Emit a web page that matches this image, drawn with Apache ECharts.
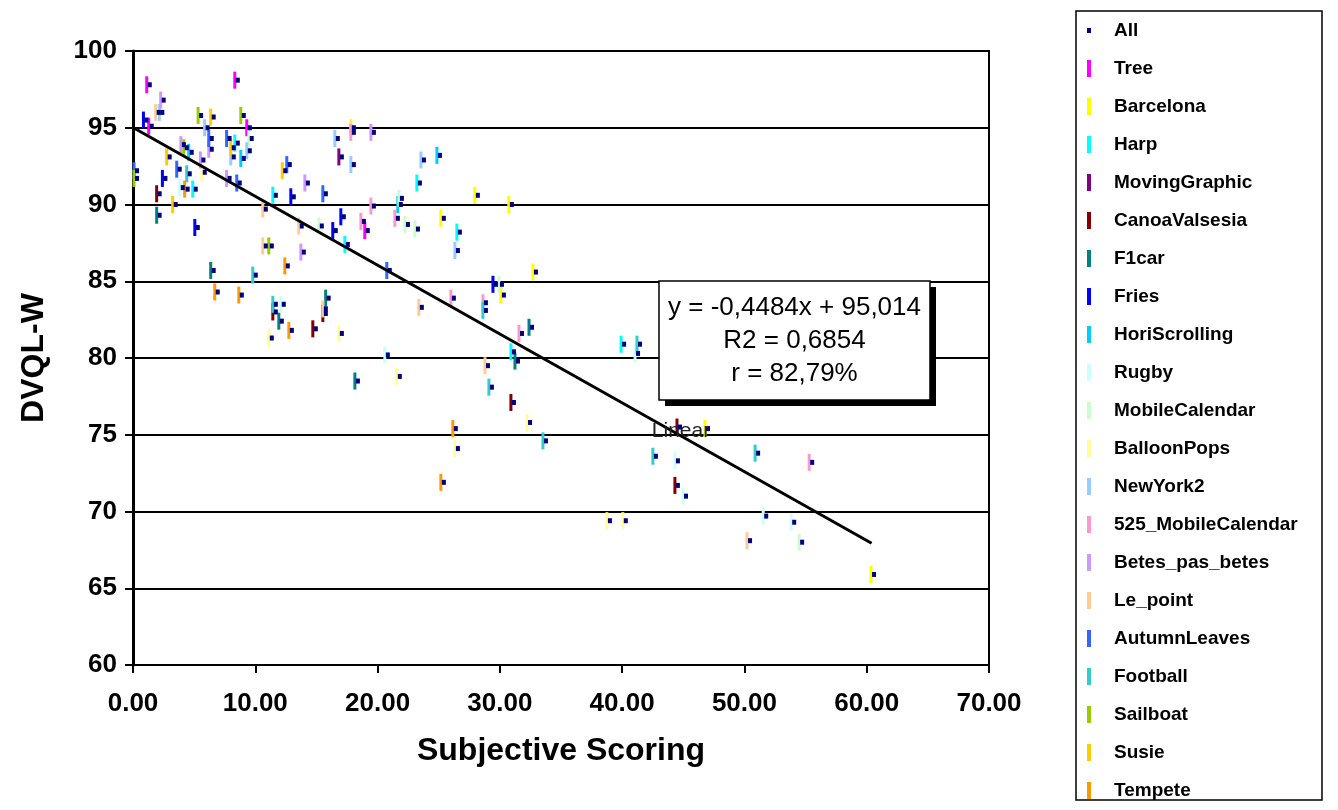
<!DOCTYPE html>
<html>
<head>
<meta charset="utf-8">
<title>DVQL-W vs Subjective Scoring</title>
<script src="https://cdn.jsdelivr.net/npm/echarts@6/dist/echarts.min.js"></script>
<style>
  html, body { margin: 0; padding: 0; background: #fff; }
  #chart { width: 1338px; height: 810px; }
</style>
</head>
<body>
<div id="chart"></div>
<script>
  // values, one array per sequence: [subjective score, DVQL-W]
  var tree = [[1.37, 97.8], [1.53, 95.1], [8.57, 98.1], [9.55, 95.0], [19.2, 88.3]];
  var barcelona = [[18.06, 95.0], [28.2, 90.6], [30.98, 90.0], [25.42, 89.1], [30.33, 84.1], [32.95, 85.6], [47.02, 75.4], [60.6, 65.9]];
  var harp = [[8.57, 94.0], [5.13, 91.0], [11.68, 90.6], [23.46, 91.4], [26.73, 88.2], [17.57, 87.4], [31.15, 80.4], [40.16, 80.9]];
  var movingGraphic = [[17.08, 93.1]];
  var canoaValsesia = [[2.18, 90.7], [11.68, 83.0], [14.95, 81.9], [15.77, 82.9], [31.15, 77.1], [44.73, 75.5], [44.56, 71.7]];
  var f1car = [[2.18, 89.3], [6.6, 85.7], [12.17, 82.4], [16.0, 83.9], [18.39, 78.5], [31.48, 79.8], [32.63, 82.0]];
  var fries = [[1.1, 95.5], [2.65, 91.7], [5.3, 88.5], [13.15, 90.5], [17.24, 89.2], [16.58, 88.3], [29.68, 84.8]];
  var horiScrolling = [[9.06, 93.0], [4.8, 93.4], [25.1, 93.2], [21.9, 90.0]];
  var rugby = [[4.07, 91.1], [12.33, 83.5], [20.84, 80.2], [41.3, 80.3], [44.56, 73.3], [45.22, 71.0], [51.78, 69.7], [54.07, 69.3]];
  var mobileCalendar = [[9.71, 94.3], [15.44, 88.6], [21.99, 90.4], [22.48, 88.7], [23.3, 88.4], [30.17, 84.8], [54.72, 68.0]];
  var balloonPops = [[5.87, 92.1], [11.35, 81.3], [17.08, 81.6], [21.82, 78.8], [26.57, 74.1], [32.47, 75.8], [39.0, 69.4], [40.3, 69.4]];
  var newYork2 = [[2.4, 96.0], [9.55, 93.5], [6.1, 95.0], [8.24, 93.1], [16.75, 94.3], [18.06, 92.6], [23.79, 92.9], [26.57, 87.0]];
  var mobileCalendar525 = [[18.06, 94.7], [21.66, 89.1], [19.7, 89.9], [18.88, 88.9], [26.24, 83.9], [28.86, 83.6], [31.81, 81.6], [55.54, 73.2]];
  var betes = [[2.51, 96.8], [6.44, 93.6], [4.16, 93.9], [5.76, 92.9], [7.9, 91.7], [14.3, 91.4], [13.97, 86.9], [19.7, 94.7]];
  var lePoint = [[2.1, 96.0], [10.86, 89.7], [13.8, 88.6], [10.86, 87.3], [15.77, 83.2], [23.62, 83.3], [29.03, 79.5], [50.46, 68.1]];
  var autumnLeaves = [[6.44, 94.3], [7.9, 94.3], [3.82, 92.3], [0.33, 92.2], [8.73, 91.4], [12.82, 92.6], [15.77, 90.7], [21.0, 85.7]];
  var football = [[4.64, 92.0], [10.04, 85.4], [11.68, 83.5], [28.86, 83.1], [29.35, 78.1], [41.46, 80.9], [33.77, 74.6], [42.76, 73.6], [51.12, 73.8]];
  var sailboat = [[5.57, 95.8], [9.06, 95.8], [4.4, 93.7], [0.33, 91.7], [11.35, 87.3]];
  var susie = [[6.6, 95.7], [8.24, 93.7], [3.0, 93.1], [3.49, 90.0], [12.45, 92.2]];
  var tempete = [[4.47, 91.0], [12.66, 86.0], [6.93, 84.3], [8.9, 84.1], [12.99, 81.8], [26.4, 75.4], [25.42, 71.9]];

  var seqNames = ['Tree', 'Barcelona', 'Harp', 'MovingGraphic', 'CanoaValsesia', 'F1car', 'Fries',
    'HoriScrolling', 'Rugby', 'MobileCalendar', 'BalloonPops', 'NewYork2', '525_MobileCalendar',
    'Betes_pas_betes', 'Le_point', 'AutumnLeaves', 'Football', 'Sailboat', 'Susie', 'Tempete'];
  var seqData = [tree, barcelona, harp, movingGraphic, canoaValsesia, f1car, fries,
    horiScrolling, rugby, mobileCalendar, balloonPops, newYork2, mobileCalendar525,
    betes, lePoint, autumnLeaves, football, sailboat, susie, tempete];
  var seqColors = ['#ff00ff', '#ffff00', '#00ffff', '#800080', '#800000', '#008080', '#0000ff',
    '#00ccff', '#ccffff', '#ccffcc', '#ffff99', '#99ccff', '#ff99cc',
    '#cc99ff', '#ffcc99', '#3366ff', '#33cccc', '#99cc00', '#ffcc00', '#ff9900'];

  var xTicks = [0, 10, 20, 30, 40, 50, 60, 70];
  var yTicks = [60, 65, 70, 75, 80, 85, 90, 95, 100];

  // linear trend as printed on the chart
  var trendSlope = -0.4484;
  var trendIntercept = 95.014;
  var trendRange = [0, 60.4];
  var trendText = ['y = -0,4484x + 95,014', 'R2 = 0,6854', 'r = 82,79%'];

  var FONT = '"Liberation Sans", Arial, sans-serif';
  var chart = echarts.init(document.getElementById('chart'));

  var allPoints = [];
  seqData.forEach(function (d) { allPoints = allPoints.concat(d); });

  var series = [{
    name: 'All',
    type: 'scatter',
    data: allPoints,
    symbol: 'rect',
    symbolSize: [4, 5],
    itemStyle: { color: '#000080', opacity: 1 },
    z: 4
  }];
  seqNames.forEach(function (n, i) {
    series.push({
      name: n,
      type: 'scatter',
      data: seqData[i],
      symbol: 'rect',
      symbolSize: [3, 17],
      symbolOffset: [-3, 0],
      itemStyle: { color: seqColors[i], opacity: 1 },
      z: 3
    });
  });
  series.push({
    name: 'Linear',
    type: 'line',
    data: trendRange.map(function (x) { return [x, trendSlope * x + trendIntercept]; }),
    symbol: 'none',
    lineStyle: { color: '#000', width: 3 },
    z: 5
  });

  var legendData = [{ name: 'All', icon: 'path://M0,0h4v5h-4z' }];
  seqNames.forEach(function (n) { legendData.push({ name: n, icon: 'rect' }); });

  chart.setOption({
    animation: false,
    textStyle: { fontFamily: FONT },
    grid: {
      left: 133, top: 51, width: 856, height: 614,
      show: true, borderColor: '#000', borderWidth: 2, backgroundColor: 'transparent'
    },
    xAxis: {
      type: 'value',
      min: xTicks[0], max: xTicks[xTicks.length - 1], interval: 10,
      name: 'Subjective Scoring',
      nameLocation: 'middle',
      nameGap: 70,
      nameTextStyle: { fontSize: 32, fontWeight: 'bold', color: '#000', fontFamily: FONT },
      axisLine: { show: true, lineStyle: { color: '#000', width: 2 } },
      axisTick: { show: true, length: 8, lineStyle: { color: '#000', width: 2 } },
      axisLabel: {
        margin: 26, fontSize: 26, fontWeight: 'bold', color: '#000', fontFamily: FONT,
        formatter: function (v) { return v.toFixed(2); }
      },
      splitLine: { show: false }
    },
    yAxis: {
      type: 'value',
      min: yTicks[0], max: yTicks[yTicks.length - 1], interval: 5,
      name: 'DVQL-W',
      nameLocation: 'middle',
      nameGap: 83,
      nameRotate: 90,
      nameTextStyle: { fontSize: 32, fontWeight: 'bold', color: '#000', fontFamily: FONT },
      axisLine: { show: true, lineStyle: { color: '#000', width: 3 } },
      axisTick: { show: true, length: 8, lineStyle: { color: '#000', width: 2 } },
      axisLabel: { margin: 16, fontSize: 26, fontWeight: 'bold', color: '#000', fontFamily: FONT },
      splitLine: { show: true, lineStyle: { color: '#000', width: 2 } }
    },
    legend: {
      orient: 'vertical',
      left: 1082,
      top: 16,
      itemWidth: 4,
      itemHeight: 17,
      itemGap: 19,
      selectedMode: false,
      data: legendData,
      textStyle: { fontSize: 19, fontWeight: 'bold', color: '#000', fontFamily: FONT, padding: [0, 0, 0, 18] }
    },
    graphic: [
      { type: 'rect', z: 50, silent: true, shape: { x: 1076, y: 11, width: 246, height: 789 },
        style: { fill: 'none', stroke: '#000', lineWidth: 1.5 } },
      { type: 'rect', z: 50, silent: true, shape: { x: 665, y: 287, width: 271, height: 119 },
        style: { fill: '#000' } },
      { type: 'rect', z: 51, silent: true, shape: { x: 659, y: 281, width: 271, height: 119 },
        style: { fill: '#fff', stroke: '#000', lineWidth: 1.5 } },
      { type: 'text', z: 52, silent: true, x: 794.5, y: 308,
        style: { text: trendText[0], font: '26px ' + FONT, fill: '#000', align: 'center', verticalAlign: 'middle' } },
      { type: 'text', z: 52, silent: true, x: 794.5, y: 341,
        style: { text: trendText[1], font: '26px ' + FONT, fill: '#000', align: 'center', verticalAlign: 'middle' } },
      { type: 'text', z: 52, silent: true, x: 794.5, y: 374,
        style: { text: trendText[2], font: '26px ' + FONT, fill: '#000', align: 'center', verticalAlign: 'middle' } },
      { type: 'text', z: 52, silent: true, x: 681, y: 431,
        style: { text: 'Linear', font: '21px ' + FONT, fill: '#222', align: 'center', verticalAlign: 'middle' } }
    ],
    series: series
  });
</script>
</body>
</html>
